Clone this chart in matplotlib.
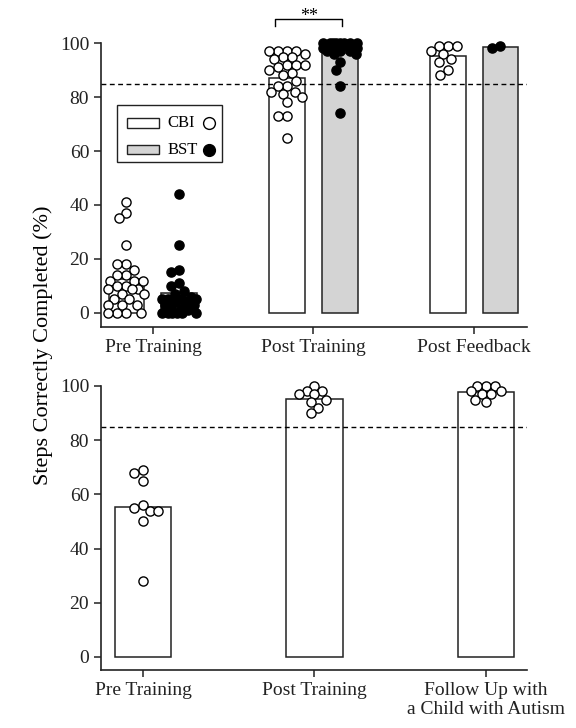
import numpy as np
import matplotlib
matplotlib.use("Agg")
import matplotlib.pyplot as plt
from matplotlib.patches import Rectangle

plt.rcParams['font.family'] = ['Liberation Serif', 'DejaVu Serif']

# ---------------- data ----------------
top_groups = ["Pre Training", "Post Training", "Post Feedback"]
top_cbi_means = [12.5, 87.0, 95.2]
top_bst_means = [7.5, 96.3, 98.5]

cbi_pre = [41, 37, 35, 25, 18, 18, 16, 14, 14, 12, 12, 12, 10, 10, 9, 9, 9,
           7, 7, 5, 5, 3, 3, 3, 0, 0, 0, 0]
bst_pre = [44, 25, 16, 15, 11, 10, 8, 7, 6, 5, 5, 5, 5, 4, 4, 3, 3, 2, 2, 1,
           0, 0, 0, 0, 0, 0]
cbi_post = [97, 97, 97, 97, 96, 95, 95, 94, 92, 92, 92, 91, 90, 89, 88, 86,
            84, 84, 82, 82, 81, 80, 78, 73, 73, 65]
bst_post = [100, 100, 100, 100, 100, 100, 100, 100, 99, 99, 99, 99, 99, 99,
            98, 98, 98, 97, 97, 97, 96, 96, 93, 90, 84, 74]
cbi_fb = [99, 99, 99, 97, 96, 94, 93, 90, 88]
bst_fb = [98, 99]

bottom_groups = ["Pre Training", "Post Training",
                 "Follow Up with\na Child with Autism"]
bottom_means = [55.5, 95.3, 97.7]
bot_pre = [69, 68, 65, 56, 55, 54, 54, 50, 28]
bot_post = [100, 98, 98, 97, 97, 95, 94, 92, 90]
bot_fu = [100, 100, 100, 98, 98, 97, 97, 95, 94]

mastery = 85
yticks = [0, 20, 40, 60, 80, 100]
ylabel = "Steps Correctly Completed (%)"

GRAY = "#d4d4d4"
MS = 6.6  # marker size in points


def swarm_x(ax, xc, vals, diam_px, lim_px):
    """Beeswarm offsets confined to +/- lim_px (overlap allowed when full)."""
    vals = np.asarray(vals, dtype=float)
    pts = ax.transData.transform(np.column_stack([np.full(len(vals), xc), vals]))
    x0 = pts[0, 0]
    ys = pts[:, 1]
    order = np.argsort(-vals, kind="stable")
    grid = np.linspace(-lim_px, lim_px, 25)
    grid = sorted(grid, key=lambda c: (abs(c), c))
    placed = []
    offs = np.zeros(len(vals))
    for i in order:
        y = ys[i]
        best, bestd = None, -1
        chosen = None
        for c in grid:
            if placed:
                d = min(np.hypot(c - px, y - py) for (px, py) in placed)
            else:
                d = np.inf
            if d >= diam_px:
                chosen = c
                break
            if d > bestd + 1e-9:
                best, bestd = c, d
        if chosen is None:
            chosen = best
        offs[i] = chosen
        placed.append((chosen, y))
    disp = np.column_stack([x0 + offs, ys])
    return ax.transData.inverted().transform(disp)[:, 0]


def style_axes(ax, xlim, ylim):
    ax.set_xlim(*xlim)
    ax.set_ylim(*ylim)
    ax.spines['top'].set_visible(False)
    ax.spines['right'].set_visible(False)
    for s in ('left', 'bottom'):
        ax.spines[s].set_linewidth(1.2)
        ax.spines[s].set_color('#222222')
    ax.spines['left'].set_bounds(ylim[0], 100)
    ax.set_yticks(yticks)
    ax.tick_params(axis='both', direction='out', length=5, width=1.1,
                   labelsize=14, colors='#222222')
    ax.axhline(mastery, color='black', lw=1.0, ls=(0, (3.5, 2.5)), zorder=3)


fig = plt.figure(figsize=(5.76, 7.28), dpi=100)
ax1 = fig.add_axes([0.1753, 0.5508, 0.7396, 0.3901])
ax2 = fig.add_axes([0.1753, 0.0797, 0.7396, 0.3901])

style_axes(ax1, (-0.324, 2.330), (-5.2, 100))
style_axes(ax2, (-0.245, 2.239), (-4.8, 100))

# ---------------- top panel ----------------
xt = np.arange(len(top_groups))
w1 = 0.224
off = 0.165
ax1.bar(xt - off, top_cbi_means, width=w1, color='white', edgecolor='#222222',
        lw=1.1, zorder=2)
ax1.bar(xt + off, top_bst_means, width=w1, color=GRAY, edgecolor='#222222',
        lw=1.1, zorder=2)
ax1.set_xticks(xt)
ax1.set_xticklabels(top_groups)

diam = MS * 100 / 72 * 0.95
for i, (c, b) in enumerate(zip([cbi_pre, cbi_post, cbi_fb],
                               [bst_pre, bst_post, bst_fb])):
    xs = swarm_x(ax1, i - off, c, diam, 18)
    ax1.plot(xs, c, 'o', ms=MS, mfc='white', mec='black', mew=1.0,
             ls='none', zorder=4, clip_on=False)
    xs = swarm_x(ax1, i + off, b, diam, 17)
    ax1.plot(xs, b, 'o', ms=MS, mfc='black', mec='black', mew=1.0,
             ls='none', zorder=4, clip_on=False)

# significance bracket
bx0, bx1, by, bh = 0.76, 1.18, 108.8, 2.6
ax1.plot([bx0, bx0, bx1, bx1], [by - bh, by, by, by - bh], color='black',
         lw=1.0, clip_on=False)
ax1.text((bx0 + bx1) / 2, by - 0.8, "**", ha='center', va='baseline',
         fontsize=13, clip_on=False)

# legend (manual, in axes fraction)
tr = ax1.transAxes
ax1.add_patch(Rectangle((0.038, 0.581), 0.245, 0.201, transform=tr,
                        fill=False, ec='#222222', lw=1.0, zorder=5))
for j, (lab, fc, mfc) in enumerate([("CBI", 'white', 'white'),
                                    ("BST", GRAY, 'black')]):
    yy = 0.718 - j * 0.093
    ax1.add_patch(Rectangle((0.061, yy - 0.017), 0.075, 0.034, transform=tr,
                            fc=fc, ec='#222222', lw=1.0, zorder=5))
    ax1.text(0.156, yy, lab, transform=tr, ha='left', va='center',
             fontsize=12, zorder=5)
    ax1.plot([0.253], [yy], 'o', transform=tr, ms=8.5, mfc=mfc, mec='black',
             mew=1.0, zorder=5, clip_on=False)

# ---------------- bottom panel ----------------
xb = np.arange(len(bottom_groups))
ax2.bar(xb, bottom_means, width=0.33, color='white', edgecolor='#222222',
        lw=1.1, zorder=2)
ax2.set_xticks(xb)
ax2.set_xticklabels(bottom_groups)
for i, v in enumerate([bot_pre, bot_post, bot_fu]):
    xs = swarm_x(ax2, i, v, diam, 15)
    ax2.plot(xs, v, 'o', ms=MS, mfc='white', mec='black', mew=1.0,
             ls='none', zorder=4, clip_on=False)

fig.text(0.075, 0.526, ylabel, rotation=90, ha='center', va='center',
         fontsize=16)

fig.savefig("out.png", dpi=100)
